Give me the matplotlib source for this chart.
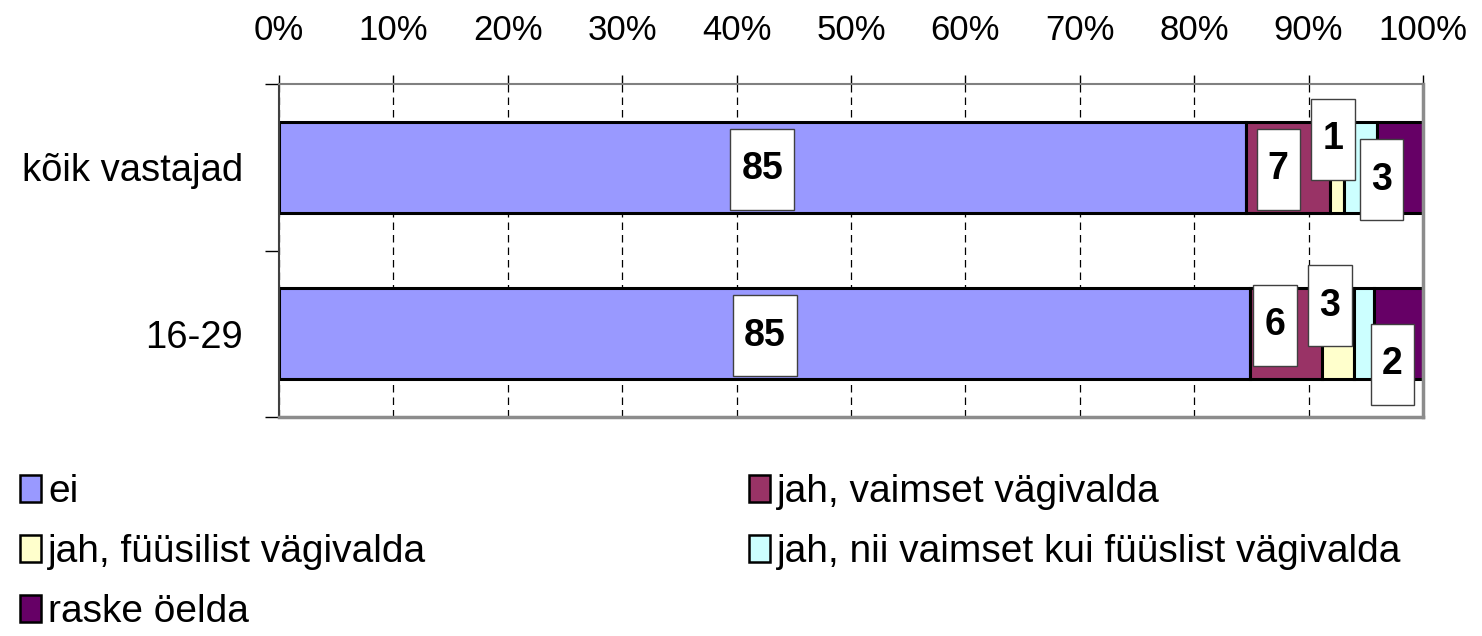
import matplotlib.pyplot as plt
from matplotlib.path import Path
import numpy as np

# Data (percent)
categories = ["kõik vastajad", "16-29"]
series = ["ei", "jah, vaimset vägivalda", "jah, füüsilist vägivalda",
          "jah, nii vaimset kui füüslist vägivalda", "raske öelda"]
ei = [84.5, 84.9]
vaimset = [7.4, 6.3]
fyysilist = [1.2, 2.8]
mõlemad = [2.9, 1.7]
raske = [4.0, 4.3]

colors = ["#9999FF", "#993366", "#FFFFCC", "#CCFFFF", "#660066"]

# label offsets in points (dx, dy) per row, for the first four series
label_offsets = [
    [(0, -1.5), (-7, -1.5), (-3, 20), (15, -9)],
    [(0, -1.5), (-8, 6), (-6, 20), (20.5, -22)],
]

plt.rcParams["font.family"] = ["Liberation Sans", "DejaVu Sans"]

fig = plt.figure(figsize=(14.82, 6.36), dpi=100)
ax = fig.add_axes([279 / 1482, 1 - 417 / 636, 1144 / 1482, 333 / 636])

values = np.array([ei, vaimset, fyysilist, mõlemad, raske])
y = np.arange(len(categories))
left = np.zeros(len(categories))
bars = []
for vals, col, name in zip(values, colors, series):
    b = ax.barh(y, vals, left=left, height=0.547, color=col,
                edgecolor="black", linewidth=2.2, label=name, zorder=2)
    bars.append(b)
    left = left + vals


def tall_box(x0, y0, width, height, mutation_size):
    px = 0.3 * mutation_size
    py = 0.6 * mutation_size
    xa, ya = x0 - px, y0 - py
    xb, yb = x0 + width + px, y0 + height + py
    return Path([(xa, ya), (xb, ya), (xb, yb), (xa, yb), (xa, ya)], closed=True)


# data labels (raske öelda has none in the original)
starts = np.vstack([np.zeros(len(categories)), np.cumsum(values, axis=0)[:-1]])
for i in range(len(categories)):
    for s in range(4):
        v = values[s][i]
        xc = starts[s][i] + v / 2
        ax.annotate(str(int(v + 0.5)), (xc, y[i]),
                    xytext=label_offsets[i][s], textcoords="offset points",
                    ha="center", va="center", fontsize=27, fontweight="bold",
                    bbox=dict(boxstyle=tall_box, facecolor="white",
                              edgecolor="#404040", linewidth=1),
                    zorder=5)

ax.set_xlim(0, 100)
ax.set_ylim(1.5, -0.5)
ax.set_xticks(np.arange(0, 101, 10))
ax.set_xticklabels([f"{t}%" for t in range(0, 101, 10)])
ax.xaxis.tick_top()
ax.tick_params(axis="x", which="major", length=6.5, width=1, pad=20,
               labelsize=25, direction="out")

ax.set_yticks(y)
ax.set_yticklabels(categories)
ax.set_yticks([-0.5, 0.5, 1.5], minor=True)
ax.tick_params(axis="y", which="major", length=0, pad=26, labelsize=27.5)
ax.tick_params(axis="y", which="minor", length=10, width=1, direction="out")

ax.set_axisbelow(True)
ax.xaxis.grid(True, linestyle=(0, (6, 4)), color="black", linewidth=0.9)

ax.spines["top"].set_color("#808080")
ax.spines["top"].set_linewidth(1.5)
ax.spines["left"].set_color("#404040")
ax.spines["left"].set_linewidth(1.5)
for side in ["right", "bottom"]:
    ax.spines[side].set_color("#8c8c8c")
    ax.spines[side].set_linewidth(2.5)

# legend ordered so that ncol=2 reads row by row
order = [0, 2, 4, 1, 3]
handles = [bars[k] for k in order]
labels = [series[k] for k in order]
leg = fig.legend(handles, labels, loc="upper left", ncol=2,
                 bbox_to_anchor=(20 / 1482, 1 - 474 / 636), frameon=False,
                 borderpad=0, borderaxespad=0, handlelength=0.54,
                 handleheight=0.72, handletextpad=0.18, labelspacing=0.62,
                 columnspacing=8.3, fontsize=28)
for h in leg.legend_handles:
    h.set_linewidth(1.8)

fig.savefig("out.png", dpi=100)
